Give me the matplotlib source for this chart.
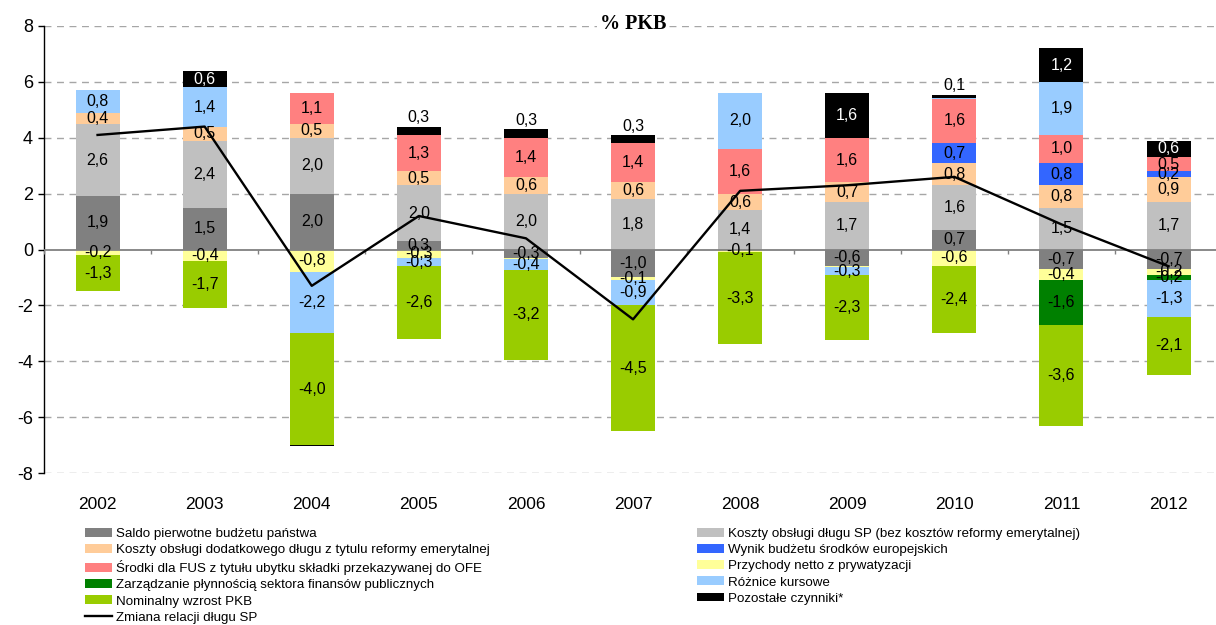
import numpy as np
import matplotlib
matplotlib.use('Agg')
import matplotlib.pyplot as plt
from matplotlib.patches import Patch
from matplotlib.lines import Line2D

plt.rcParams['font.family'] = ['Liberation Sans', 'DejaVu Sans']
plt.rcParams['axes.unicode_minus'] = False

years = ['2002', '2003', '2004', '2005', '2006', '2007', '2008', '2009', '2010', '2011', '2012']

saldo = [1.9, 1.5, 2.0, 0.3, -0.3, -1.0, 0.0, -0.6, 0.7, -0.7, -0.7]
koszty_sp = [2.6, 2.4, 2.0, 2.0, 2.0, 1.8, 1.4, 1.7, 1.6, 1.5, 1.7]
koszty_dod = [0.4, 0.5, 0.5, 0.5, 0.6, 0.6, 0.6, 0.7, 0.8, 0.8, 0.9]
wynik_ue = [0, 0, 0, 0, 0, 0, 0, 0, 0.7, 0.8, 0.2]
fus = [0, 0, 1.1, 1.3, 1.4, 1.4, 1.6, 1.6, 1.6, 1.0, 0.5]
prywatyzacja = [-0.2, -0.4, -0.8, -0.3, -0.04, -0.1, -0.1, -0.03, -0.6, -0.4, -0.2]
zarzadzanie = [0, 0, 0, 0, 0, 0, 0, 0, 0, -1.6, -0.2]
roznice = [0.8, 1.4, -2.2, -0.3, -0.4, -0.9, 2.0, -0.3, 0.04, 1.9, -1.3]
pkb = [-1.3, -1.7, -4.0, -2.6, -3.2, -4.5, -3.3, -2.3, -2.4, -3.6, -2.1]
pozostale = [0, 0.6, -0.05, 0.3, 0.3, 0.3, 0, 1.6, 0.1, 1.2, 0.6]
zmiana = [4.1, 4.4, -1.3, 1.2, 0.4, -2.5, 2.1, 2.3, 2.6, 0.9, -0.6]

names = [
    'Saldo pierwotne budżetu państwa',
    'Koszty obsługi długu SP (bez kosztów reformy emerytalnej)',
    'Koszty obsługi dodatkowego długu z tytulu reformy emerytalnej',
    'Wynik budżetu środków europejskich',
    'Środki dla FUS z tytułu ubytku składki przekazywanej do OFE',
    'Przychody netto z prywatyzacji',
    'Zarządzanie płynnością sektora finansów publicznych',
    'Różnice kursowe',
    'Nominalny wzrost PKB',
    'Pozostałe czynniki*',
]
series = [saldo, koszty_sp, koszty_dod, wynik_ue, fus, prywatyzacja,
          zarzadzanie, roznice, pkb, pozostale]
colors = ['#808080', '#C0C0C0', '#FFCC99', '#3366FF', '#FF8080', '#FFFF99',
          '#008000', '#99CCFF', '#99CC00', '#000000']

fig = plt.figure(figsize=(12.16, 6.25), dpi=100)
ax = fig.add_axes([44 / 1216, 1 - 473 / 625, 1 - 44 / 1216, (473 - 26) / 625])

x = np.arange(len(years))
width = 0.41
pos = np.zeros(len(years))
neg = np.zeros(len(years))

for name, vals, col in zip(names, series, colors):
    vals = np.array(vals, dtype=float)
    bottom = np.where(vals >= 0, pos, neg)
    ax.bar(x, vals, width, bottom=bottom, color=col, zorder=2)
    for i, v in enumerate(vals):
        if abs(v) < 0.06:
            continue
        txt = f'{v:.1f}'.replace('.', ',')
        yc = bottom[i] + v / 2
        if col == '#000000':
            if abs(v) < 0.4:
                ax.text(x[i], bottom[i] + v + 0.05, txt, ha='center', va='bottom',
                        fontsize=11.5, color='black', zorder=4)
            else:
                ax.text(x[i], yc, txt, ha='center', va='center',
                        fontsize=11.5, color='white', zorder=4)
        else:
            ax.text(x[i], yc, txt, ha='center', va='center',
                    fontsize=11.5, color='black', zorder=4)
    pos = np.where(vals >= 0, pos + vals, pos)
    neg = np.where(vals < 0, neg + vals, neg)

ax.plot(x, zmiana, color='black', lw=1.7, zorder=5)

# axes styling
ax.set_xlim(-0.5, (1216 - 44) / 107.1 - 0.5)
ax.set_ylim(-8, 8)
ax.set_yticks(np.arange(-8, 9, 2))
for yv in np.arange(-8, 9, 2):
    if yv != 0:
        ax.axhline(yv, color='#A6A6A6', lw=1.0, dashes=(5, 4), zorder=0)
ax.axhline(0, color='#808080', lw=1.3, zorder=3)
bounds = np.arange(len(years) + 1) - 0.5
ax.vlines(bounds, -0.15, 0, color='#808080', lw=1.0, zorder=3)

for s in ['top', 'right', 'bottom']:
    ax.spines[s].set_visible(False)
ax.spines['left'].set_linewidth(1.0)
ax.tick_params(axis='y', length=4, width=1.0, labelsize=13, pad=4)
ax.set_xticks(x)
ax.set_xticklabels(years)
ax.tick_params(axis='x', length=0, labelsize=12.5, pad=17)

fig.text(633 / 1216, 1 - 24 / 625, '% PKB', ha='center', va='center',
         fontsize=14.5, fontweight='bold', family='Liberation Serif',
         bbox=dict(facecolor='white', edgecolor='none', pad=2))

# legends
handles = [Patch(facecolor=c, edgecolor='none') for c in colors]
line_h = Line2D([0], [0], color='black', lw=1.7)
left_h = handles[0::2] + [line_h]
left_l = names[0::2] + ['Zmiana relacji długu SP']
right_h = handles[1::2]
right_l = names[1::2]

kw = dict(frameon=False, fontsize=9.6, borderpad=0, borderaxespad=0,
          handlelength=2.05, handleheight=0.65, handletextpad=0.25,
          labelspacing=0.3, loc='upper left')
leg1 = fig.legend(left_h, left_l, bbox_to_anchor=(85 / 1216, 1 - 528 / 625), **kw)
leg2 = fig.legend(right_h, right_l, bbox_to_anchor=(697 / 1216, 1 - 528 / 625), **kw)

fig.savefig('out.png', dpi=100)
